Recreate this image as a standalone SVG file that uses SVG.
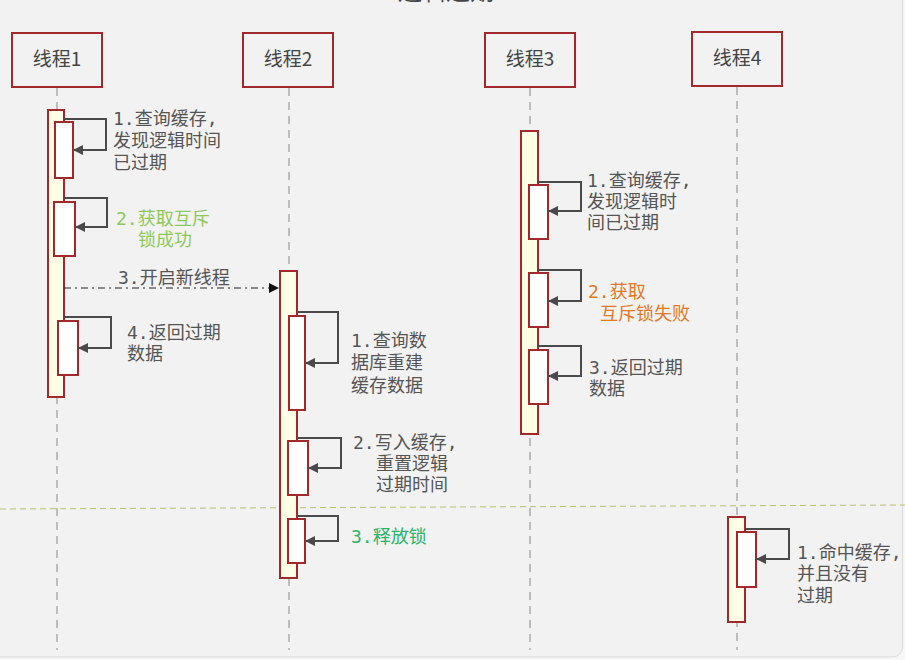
<svg xmlns="http://www.w3.org/2000/svg" width="905" height="660" viewBox="0 0 905 660">
<defs>
<style>
.hdr{fill:#f2f2f2;stroke:#a3282b;stroke-width:2}
.ht{font-family:"Noto Sans CJK SC","DejaVu Sans",sans-serif;font-size:19px;fill:#444;text-anchor:middle}
.life{stroke:#bdbdbd;stroke-width:2;stroke-dasharray:8 6;fill:none}
.act{fill:#fffde3;stroke:#a3282b;stroke-width:2}
.box{fill:#ffffff;stroke:#a3282b;stroke-width:2}
.self{fill:none;stroke:#4a4a4a;stroke-width:2}
.lbl{font-family:"DejaVu Sans Mono","Noto Sans CJK SC",monospace;font-size:18px;fill:#555}
.g1{fill:#8dc95a}
.g2{fill:#2bb36a}
.or{fill:#e07a26}
</style>
<marker id="ah" viewBox="0 0 10 10" refX="10" refY="5" markerWidth="12" markerHeight="10" markerUnits="userSpaceOnUse" orient="auto">
<path d="M0,0 L10,5 L0,10 Z" fill="#4a4a4a"/>
</marker>
<marker id="ahb" viewBox="0 0 10 10" refX="10" refY="5" markerWidth="11" markerHeight="10" markerUnits="userSpaceOnUse" orient="auto">
<path d="M0,0 L10,5 L0,10 Z" fill="#111"/>
</marker>
</defs>
<rect x="0" y="0" width="905" height="660" fill="#f7f7f7"/>
<rect x="-10" y="-10" width="912.5" height="667" rx="10" fill="#f2f2f2" stroke="#dadada" stroke-width="1"/>
<text x="446" y="0" font-family="Noto Sans CJK SC,sans-serif" font-size="24" fill="#444" text-anchor="middle">逻辑过期</text>

<line x1="0" y1="509" x2="905" y2="505" stroke="#b9c06e" stroke-width="1" stroke-dasharray="6 4"/>

<g id="thread1">
<rect class="hdr" x="12" y="33" width="90" height="54"/>
<text class="ht" x="57" y="66">线程1</text>
<line class="life" x1="57" y1="88" x2="57" y2="650"/>
<rect class="act" x="48" y="110" width="16" height="287"/>
<rect class="box" x="55" y="122" width="18" height="56"/>
<rect class="box" x="54" y="202" width="21" height="54"/>
<rect class="box" x="58" y="321" width="20" height="54"/>
</g>

<g id="thread2">
<rect class="hdr" x="243" y="33" width="90" height="54"/>
<text class="ht" x="288" y="66">线程2</text>
<line class="life" x1="289" y1="88" x2="289" y2="650"/>
<rect class="act" x="280" y="271" width="17" height="307"/>
<rect class="box" x="289" y="316" width="16" height="94"/>
<rect class="box" x="288" y="441" width="20" height="54"/>
<rect class="box" x="288" y="519" width="17" height="44"/>
</g>

<g id="thread3">
<rect class="hdr" x="485" y="33" width="90" height="54"/>
<text class="ht" x="530" y="66">线程3</text>
<line class="life" x1="530" y1="88" x2="530" y2="650"/>
<rect class="act" x="521" y="131" width="17" height="303"/>
<rect class="box" x="529" y="185" width="19" height="54"/>
<rect class="box" x="529" y="273" width="19" height="54"/>
<rect class="box" x="529" y="350" width="19" height="54"/>
</g>

<g id="thread4">
<rect class="hdr" x="692" y="32" width="90" height="54"/>
<text class="ht" x="737" y="65">线程4</text>
<line class="life" x1="737" y1="87" x2="737" y2="650"/>
<rect class="act" x="728" y="517" width="17" height="105"/>
<rect class="box" x="737" y="532" width="19" height="55"/>
</g>

<g id="connectors">
<polyline class="self" points="64,119 106,119 106,150 73,150" marker-end="url(#ah)"/>
<polyline class="self" points="64,198 107,198 107,227 75,227" marker-end="url(#ah)"/>
<line x1="64" y1="288" x2="279" y2="288" stroke="#222" stroke-width="1.2" stroke-dasharray="7 4 2 4" marker-end="url(#ahb)"/>
<polyline class="self" points="64,317 111,317 111,348 78,348" marker-end="url(#ah)"/>

<polyline class="self" points="297,312 338,312 338,363 305,363" marker-end="url(#ah)"/>
<polyline class="self" points="297,438 341,438 341,468 308,468" marker-end="url(#ah)"/>
<polyline class="self" points="297,516 338,516 338,541 305,541" marker-end="url(#ah)"/>

<polyline class="self" points="538,182 581,182 581,211 548,211" marker-end="url(#ah)"/>
<polyline class="self" points="538,270 581,270 581,301 548,301" marker-end="url(#ah)"/>
<polyline class="self" points="538,346 581,346 581,376 548,376" marker-end="url(#ah)"/>

<polyline class="self" points="745,529 789,529 789,559 756,559" marker-end="url(#ah)"/>
</g>

<g id="labels">
<text class="lbl" x="113" y="124.5">1.查询缓存,</text>
<text class="lbl" x="113" y="146.5">发现逻辑时间</text>
<text class="lbl" x="113" y="168.5">已过期</text>
<text class="lbl g1" x="116" y="224.5">2.获取互斥</text>
<text class="lbl g1" x="138" y="245.5">锁成功</text>
<text class="lbl" x="118" y="283.5">3.开启新线程</text>
<text class="lbl" x="127" y="338.5">4.返回过期</text>
<text class="lbl" x="127" y="359.5">数据</text>

<text class="lbl" x="351" y="346.5">1.查询数</text>
<text class="lbl" x="351" y="369">据库重建</text>
<text class="lbl" x="351" y="391.5">缓存数据</text>
<text class="lbl" x="353" y="448.5">2.写入缓存,</text>
<text class="lbl" x="376" y="469.5">重置逻辑</text>
<text class="lbl" x="376" y="490.5">过期时间</text>
<text class="lbl g2" x="351" y="542.5">3.释放锁</text>

<text class="lbl" x="587" y="186.5">1.查询缓存,</text>
<text class="lbl" x="587" y="207.5">发现逻辑时</text>
<text class="lbl" x="587" y="229">间已过期</text>
<text class="lbl or" x="588" y="297.5">2.获取</text>
<text class="lbl or" x="600" y="319.5">互斥锁失败</text>
<text class="lbl" x="589" y="373.5">3.返回过期</text>
<text class="lbl" x="589" y="394.5">数据</text>

<text class="lbl" x="797" y="558.5">1.命中缓存,</text>
<text class="lbl" x="797" y="580">并且没有</text>
<text class="lbl" x="797" y="602">过期</text>
</g>
</svg>
